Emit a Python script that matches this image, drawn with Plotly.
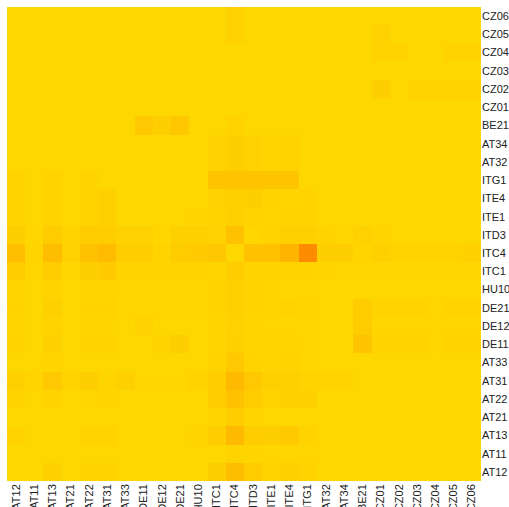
import plotly.graph_objects as go

regions = ["AT12", "AT11", "AT13", "AT21", "AT22", "AT31", "AT33", "DE11", "DE12", "DE21",
           "HU10", "ITC1", "ITC4", "ITD3", "ITE1", "ITE4", "ITG1", "AT32", "AT34", "BE21",
           "CZ01", "CZ02", "CZ03", "CZ04", "CZ05", "CZ06"]

# rows listed from top (CZ06) to bottom (AT12); columns follow `regions`
z = {
    "CZ06": [0,0,0,0,0,0,0,0,0,0,0,0,0.08,0,0,0,0,0,0,0,0,0,0,0,0,0],
    "CZ05": [0,0,0,0,0,0,0,0,0,0,0,0,0.08,0,0,0,0,0,0,0,0.08,0,0,0,0,0],
    "CZ04": [0,0,0,0,0,0,0,0,0,0,0,0,0,0,0,0,0,0,0,0,0.07,0.07,0,0,0.07,0.07],
    "CZ03": [0]*26,
    "CZ02": [0,0,0,0,0,0,0,0,0,0,0,0,0,0,0,0,0,0,0,0,0.12,0,0.07,0.07,0.07,0.07],
    "CZ01": [0]*26,
    "BE21": [0,0,0,0,0,0,0,0.2,0.12,0.22,0,0,0.07,0,0,0,0,0,0,0,0,0,0,0,0,0],
    "AT34": [0,0,0,0,0,0,0,0,0,0,0,0.08,0.12,0.08,0.04,0.07,0,0,0,0,0,0,0,0,0,0],
    "AT32": [0,0,0,0,0,0,0,0,0,0,0,0.08,0.12,0.08,0.04,0.07,0,0,0,0,0,0,0,0,0,0],
    "ITG1": [0.05,0,0.05,0,0.05,0,0,0,0,0,0,0.25,0.25,0.25,0.25,0.25,0,0,0,0,0,0,0,0,0,0],
    "ITE4": [0.05,0,0.05,0,0.05,0.1,0,0,0,0,0,0.08,0.1,0.12,0.06,0.04,0.05,0,0,0,0,0,0,0,0,0],
    "ITE1": [0.05,0,0.05,0,0.05,0.1,0,0,0,0,0.04,0.06,0.1,0.06,0.04,0.05,0.06,0,0,0,0,0,0,0,0,0],
    "ITD3": [0.12,0.02,0.15,0.05,0.15,0.15,0.08,0.08,0.02,0.1,0.1,0.08,0.3,0.02,0.05,0.11,0.11,0.05,0.02,0.08,0.04,0,0,0,0,0],
    "ITC4": [0.33,0.04,0.35,0.08,0.28,0.38,0.14,0.14,0.05,0.15,0.18,0.22,0,0.3,0.3,0.45,1.0,0.12,0.12,0.03,0.1,0.05,0.05,0.05,0.05,0.1],
    "ITC1": [0.15,0.02,0.15,0.02,0.12,0.18,0.07,0.07,0.05,0.06,0.06,0.03,0.15,0.06,0.06,0.06,0.06,0.03,0.02,0.02,0.02,0.02,0.02,0.02,0.02,0.02],
    "HU10": [0.03,0,0.06,0,0.03,0.03,0.02,0.02,0.02,0.02,0.02,0.07,0.1,0.05,0.03,0.02,0.02,0,0,0,0,0,0,0,0,0],
    "DE21": [0.07,0,0.1,0,0.06,0.06,0.02,0.02,0.02,0.02,0.02,0.05,0.1,0.05,0.03,0.07,0.04,0,0,0.15,0.06,0.06,0.06,0.02,0.06,0.06],
    "DE12": [0.03,0,0.06,0,0.03,0.03,0,0.08,0,0,0,0.03,0.08,0.03,0.02,0.02,0.02,0,0,0.15,0.02,0.02,0.02,0.02,0.02,0.02],
    "DE11": [0.06,0,0.1,0,0.06,0.06,0,0,0.06,0.12,0,0.04,0.1,0.03,0.04,0.04,0.02,0,0,0.25,0.07,0.07,0.07,0.02,0.07,0.07],
    "AT33": [0,0,0.03,0,0,0,0,0,0,0,0,0.05,0.2,0.05,0.04,0.06,0.02,0,0,0,0,0,0,0,0,0],
    "AT31": [0.1,0.04,0.2,0.05,0.12,0.03,0.1,0.01,0.01,0.01,0.05,0.15,0.4,0.2,0.1,0.1,0.07,0.05,0.05,0,0,0,0,0,0,0],
    "AT22": [0.06,0,0.05,0,0.02,0.04,0,0,0,0,0,0.15,0.3,0.15,0.07,0.1,0.1,0,0,0,0,0,0,0,0,0],
    "AT21": [0,0,0,0,0,0,0,0,0,0,0,0.03,0.15,0.03,0,0,0,0,0,0,0,0,0,0,0,0],
    "AT13": [0.07,0,0,0,0.05,0.05,0,0,0,0,0.04,0.15,0.4,0.15,0.12,0.18,0.06,0,0,0,0,0,0,0,0,0],
    "AT11": [0,0,0,0,0,0,0,0,0,0,0,0,0.05,0.03,0.02,0.02,0.02,0,0,0,0,0,0,0,0,0],
    "AT12": [0,0,0.1,0,0.05,0.05,0,0,0,0,0,0.12,0.35,0.15,0.05,0.1,0.07,0,0,0,0,0,0,0,0,0],
}

rows_bottom_up = regions  # AT12 at bottom ... CZ06 at top
zmat = [z[r] for r in rows_bottom_up]

fig = go.Figure(go.Heatmap(
    x=regions, y=rows_bottom_up, z=zmat,
    colorscale=[[0, "#FFD700"], [1, "#FF8C00"]],
    zmin=0, zmax=1, showscale=False, xgap=0, ygap=0,
))

fig.update_layout(
    width=509, height=507,
    margin=dict(l=7, r=28, t=7, b=26),
    paper_bgcolor="white", plot_bgcolor="white",
    font=dict(family="Liberation Sans, Arial, sans-serif", size=11, color="#222"),
)
fig.update_xaxes(type="category", tickangle=-90, showgrid=False, zeroline=False,
                 ticks="", tickfont=dict(size=11), automargin=False)
fig.update_yaxes(type="category", side="right", showgrid=False, zeroline=False,
                 ticks="", tickfont=dict(size=11), automargin=False)

fig.write_html("out.html", config={"displayModeBar": False},
               post_script="document.body.style.margin='0px';")
